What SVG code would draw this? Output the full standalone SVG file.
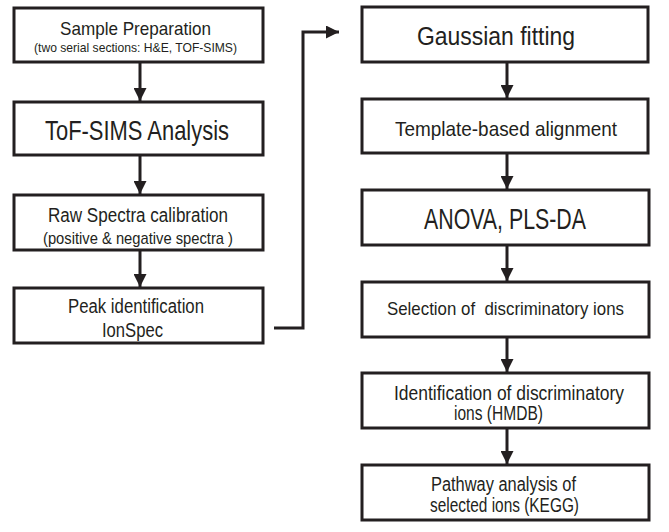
<svg xmlns="http://www.w3.org/2000/svg" width="669" height="532" viewBox="0 0 669 532">
<style>
.box{fill:#fff;stroke:#231f20;stroke-width:3}
.t{font-family:"Liberation Sans",Arial,sans-serif;fill:#231f20}
.c{fill:none;stroke:#231f20;stroke-width:3}
</style>
<defs>
<marker id="ah" markerUnits="userSpaceOnUse" markerWidth="13" markerHeight="13" viewBox="0 0 13 13" refX="13" refY="6.5" orient="auto">
<path d="M0,0 L13,6.5 L0,13 Z" fill="#231f20"/>
</marker>
</defs>
<rect width="669" height="532" fill="#fff"/>
<g id="connectors">
<line class="c" x1="140" y1="62" x2="140" y2="101" marker-end="url(#ah)"/>
<line class="c" x1="140" y1="155" x2="140" y2="194" marker-end="url(#ah)"/>
<line class="c" x1="140" y1="250" x2="140" y2="287" marker-end="url(#ah)"/>
<polyline class="c" points="274,328 303,328 303,32 339,32" marker-end="url(#ah)"/>
<line class="c" x1="507" y1="62" x2="507" y2="98" marker-end="url(#ah)"/>
<line class="c" x1="507" y1="153" x2="507" y2="189" marker-end="url(#ah)"/>
<line class="c" x1="507" y1="245" x2="507" y2="281" marker-end="url(#ah)"/>
<line class="c" x1="507" y1="337" x2="507" y2="372" marker-end="url(#ah)"/>
<line class="c" x1="507" y1="428" x2="507" y2="464" marker-end="url(#ah)"/>
</g>
<g id="n1">
<rect class="box" x="14" y="8" width="249" height="54"/>
<text class="t" x="60" y="35" font-size="19" textLength="151" lengthAdjust="spacingAndGlyphs">Sample Preparation</text>
<text class="t" x="34" y="52" font-size="13" textLength="203" lengthAdjust="spacingAndGlyphs">(two serial sections: H&amp;E, TOF-SIMS)</text>
</g>
<g id="n2">
<rect class="box" x="14" y="102" width="249" height="53"/>
<text class="t" x="45" y="140" font-size="28" textLength="184" lengthAdjust="spacingAndGlyphs">ToF-SIMS Analysis</text>
</g>
<g id="n3">
<rect class="box" x="14" y="195" width="249" height="55"/>
<text class="t" x="48" y="222" font-size="20" textLength="180" lengthAdjust="spacingAndGlyphs">Raw Spectra calibration</text>
<text class="t" x="43" y="244" font-size="17" textLength="190" lengthAdjust="spacingAndGlyphs">(positive &amp; negative spectra )</text>
</g>
<g id="n4">
<rect class="box" x="14" y="288" width="249" height="55"/>
<text class="t" x="68" y="313" font-size="20" textLength="136" lengthAdjust="spacingAndGlyphs">Peak identification</text>
<text class="t" x="102" y="337" font-size="20" textLength="61" lengthAdjust="spacingAndGlyphs">IonSpec</text>
</g>
<g id="n5">
<rect class="box" x="362" y="7" width="286" height="55"/>
<text class="t" x="417" y="45" font-size="26" textLength="158" lengthAdjust="spacingAndGlyphs">Gaussian fitting</text>
</g>
<g id="n6">
<rect class="box" x="362" y="99" width="286" height="54"/>
<text class="t" x="395" y="136" font-size="21" textLength="222" lengthAdjust="spacingAndGlyphs">Template-based alignment</text>
</g>
<g id="n7">
<rect class="box" x="362" y="190" width="287" height="55"/>
<text class="t" x="424" y="229" font-size="30" textLength="162" lengthAdjust="spacingAndGlyphs">ANOVA, PLS-DA</text>
</g>
<g id="n8">
<rect class="box" x="362" y="282" width="287" height="55"/>
<text class="t" x="387" y="315" font-size="19" textLength="237" lengthAdjust="spacingAndGlyphs">Selection of&#160; discriminatory ions</text>
</g>
<g id="n9">
<rect class="box" x="362" y="373" width="287" height="55"/>
<text class="t" x="394" y="400" font-size="20" textLength="230" lengthAdjust="spacingAndGlyphs">Identification of discriminatory</text>
<text class="t" x="454" y="420" font-size="20" textLength="89" lengthAdjust="spacingAndGlyphs">ions (HMDB)</text>
</g>
<g id="n10">
<rect class="box" x="362" y="465" width="287" height="55"/>
<text class="t" x="431" y="491" font-size="20" textLength="145" lengthAdjust="spacingAndGlyphs">Pathway analysis of</text>
<text class="t" x="430" y="512" font-size="20" textLength="149" lengthAdjust="spacingAndGlyphs">selected ions (KEGG)</text>
</g>
</svg>
